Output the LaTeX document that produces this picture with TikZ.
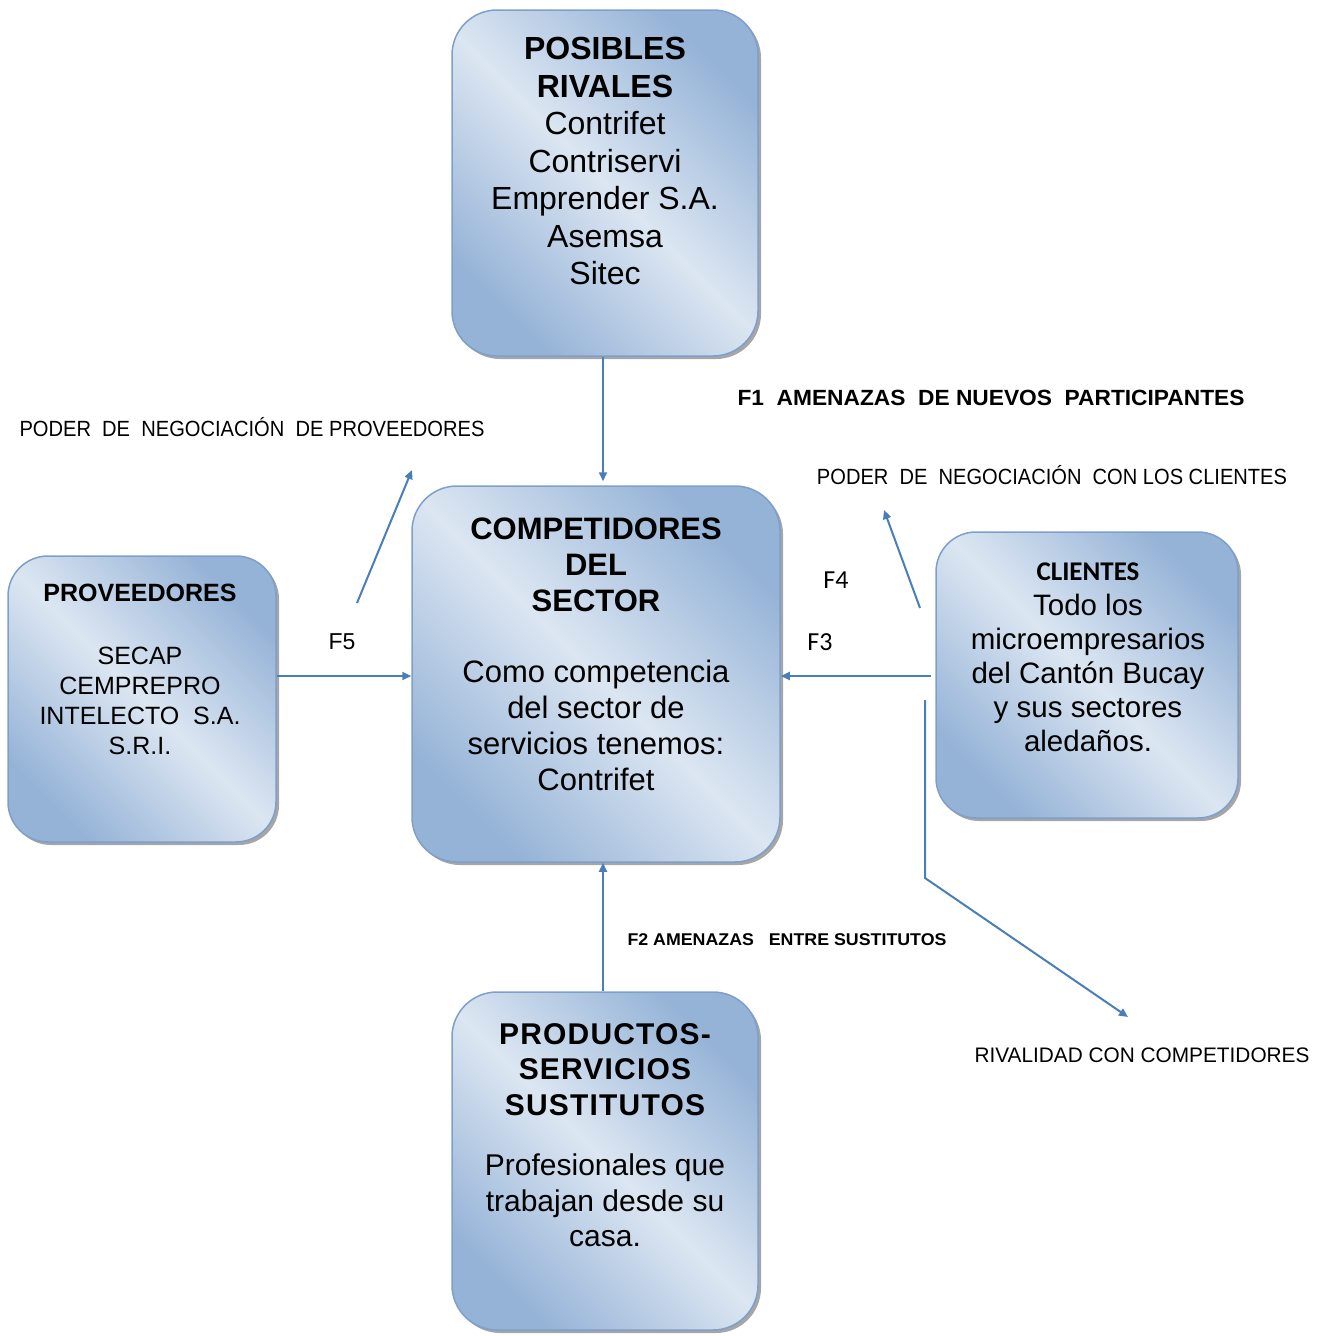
\documentclass[tikz,border=0pt]{standalone}
\usepackage{fontspec}
\setmainfont{Liberation Sans}
\newfontfamily\calibri{Carlito}
\newfontfamily\widebold[LetterSpace=4]{Liberation Sans}
\usepackage{graphicx}
\usetikzlibrary{shadows,arrows.meta,calc}
\definecolor{boxdark}{HTML}{95B3D7}
\definecolor{boxlight}{HTML}{DCE6F2}
\definecolor{boxline}{HTML}{7E9FCB}
\definecolor{arrowblue}{HTML}{4A7EBB}
\begin{document}
\begin{tikzpicture}[x=1pt,y=-1pt,
  fbox/.style={draw=boxline, line width=1.5pt, rounded corners=#1,
    top color=boxdark, bottom color=boxdark, middle color=boxlight, shading angle=-45,
    drop shadow={shadow xshift=3pt, shadow yshift=-3pt, fill=black!50, opacity=0.7},
    inner sep=0pt},
  fbox/.default=45pt,
  lbl/.style={inner sep=0pt, font=\fontsize{#1}{#1}\selectfont},
  arr/.style={draw=arrowblue, line width=2pt, -{Triangle[length=9pt,width=8pt]}},
  ln/.style={draw=arrowblue, line width=2pt}
]
\useasboundingbox (0,0) rectangle (1326,1336);

% boxes
\node[fbox, minimum width=306pt, minimum height=346pt] (rivales) at (605,183) {};
\node[fbox, minimum width=368pt, minimum height=376pt] (comp) at (596,674) {};
\node[fbox=40pt, minimum width=268pt, minimum height=286pt] (prov) at (142,699) {};
\node[fbox=40pt, minimum width=302pt, minimum height=286pt] (cli) at (1087,675) {};
\node[fbox, minimum width=306pt, minimum height=338pt] (prod) at (605,1161) {};

% box texts
\node[align=center, inner sep=0pt, font=\fontsize{32pt}{37.5pt}\selectfont] (rivtxt) at (605,161)
  {\textbf{POSIBLES}\\\textbf{RIVALES}\\Contrifet\\Contriservi\\Emprender S.A.\\Asemsa\\Sitec};
\node[align=center, inner sep=0pt, font=\fontsize{31pt}{36pt}\selectfont] (comptxt) at (596,654)
  {\textbf{COMPETIDORES}\\\textbf{DEL}\\\textbf{SECTOR}\\[35pt]Como competencia\\del sector de\\servicios tenemos:\\Contrifet};
\node[align=center, inner sep=0pt, font=\fontsize{25pt}{30pt}\selectfont] (provtxt) at (140,669)
  {\textbf{PROVEEDORES}\\[33pt]SECAP\\CEMPREPRO\\INTELECTO\ \ S.A.\\S.R.I.};
\node[align=center, inner sep=0pt, font=\fontsize{29.5pt}{34pt}\selectfont] (clitxt) at (1088,657)
  {{\calibri\fontsize{27pt}{34pt}\selectfont\textbf{CLIENTES}}\\[1pt]Todo los\\microempresarios\\del Cantón Bucay\\y sus sectores\\aledaños.};
\node[align=center, inner sep=0pt, font=\fontsize{30pt}{35.5pt}\selectfont] (prodtxt) at (605,1135)
  {{\widebold\bfseries PRODUCTOS-}\\{\widebold\bfseries SERVICIOS}\\{\widebold\bfseries SUSTITUTOS}\\[25pt]Profesionales que\\trabajan desde su\\casa.};

% labels
\node[lbl=22pt] (f1) at (991,398) {\resizebox{507pt}{\height}{\textbf{F1\ \ AMENAZAS\ \ DE NUEVOS\ \ PARTICIPANTES}}};
\node[lbl=22pt] (pprov) at (252,427) {\resizebox{465pt}{\height}{PODER\ \ DE\ \ NEGOCIACIÓN\ \ DE PROVEEDORES}};
\node[lbl=22pt] (pcli) at (1052,475) {\resizebox{470pt}{\height}{PODER\ \ DE\ \ NEGOCIACIÓN\ \ CON LOS CLIENTES}};
\node[lbl=17pt] (f2) at (787,940) {\resizebox{319pt}{\height}{\textbf{F2 AMENAZAS\ \ \ ENTRE SUSTITUTOS}}};
\node[lbl=21pt] (riv) at (1142,1055) {\resizebox{335pt}{\height}{RIVALIDAD CON COMPETIDORES}};
\node[inner sep=0pt, font=\calibri\fontsize{26pt}{26pt}\selectfont] (f4) at (836,580) {F4};
\node[inner sep=0pt, font=\calibri\fontsize{26pt}{26pt}\selectfont] (f3) at (820,642) {F3};
\node[lbl=23pt] (f5) at (342,642) {F5};

% free ends
\coordinate (p5a) at (357,603);
\coordinate (p5b) at (412,470);
\coordinate (p4a) at (920,608);
\coordinate (p4b) at (884,510);
\coordinate (r1) at (925,700);
\coordinate (r2) at (925,878);
\coordinate (r3) at (1128,1017);

% connectors
\draw[arr, shorten >=4pt] ([xshift=-2pt]rivales.south) -- ([xshift=-2pt]rivales.south |- comp.north);
\draw[arr] ([xshift=-2pt]prod.north) -- ([xshift=-2pt]prod.north |- comp.south);
\draw[arr] ([yshift=-2pt]comp.west -| prov.east) -- ([yshift=-2pt]comp.west);
\draw[arr, shorten <=4pt] ([yshift=-2pt]comp.east -| cli.west) -- ([yshift=-2pt]comp.east);
\draw[arr] (p5a) -- (p5b);
\draw[arr] (p4a) -- (p4b);
\draw[arr] (r1) -- (r2) -- (r3);
\end{tikzpicture}
\end{document}
